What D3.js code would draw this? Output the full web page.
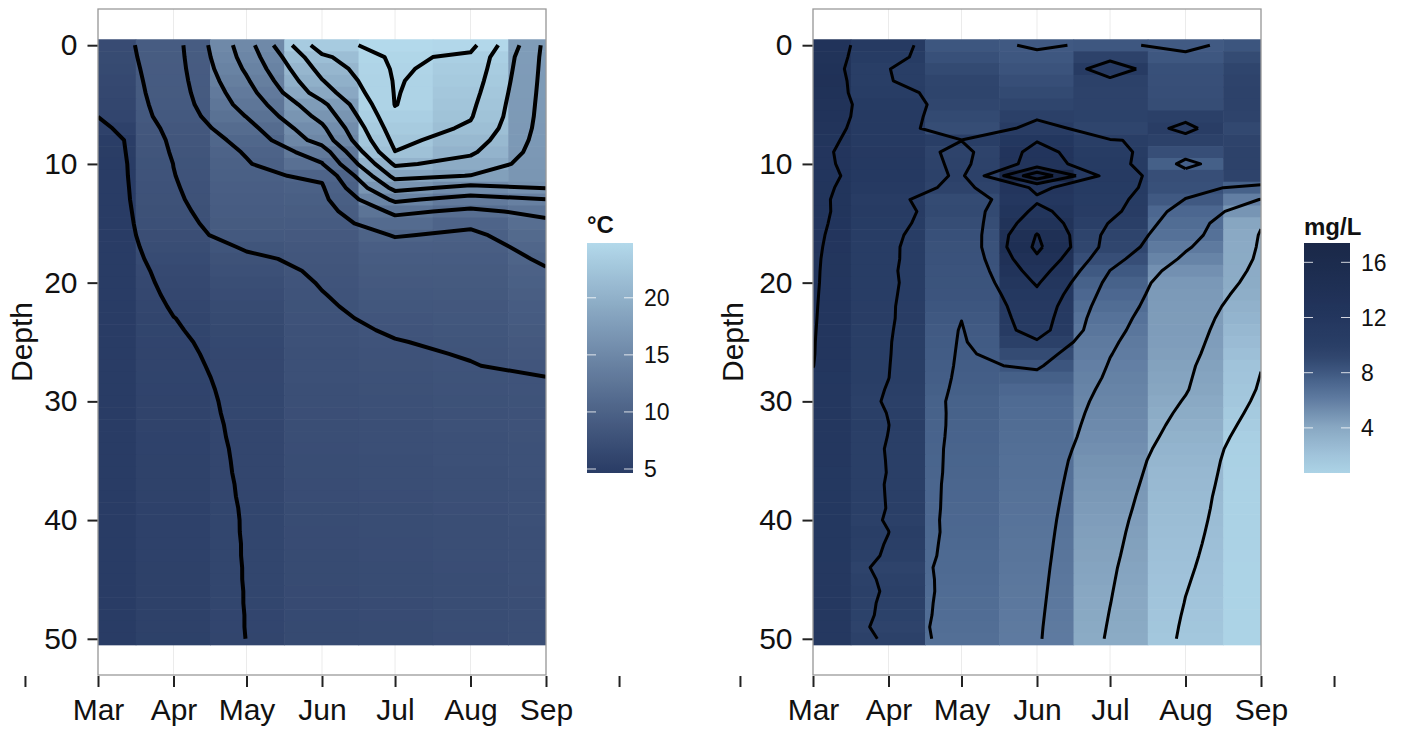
<!DOCTYPE html>
<html>
<head>
<meta charset="utf-8">
<script src="https://cdn.jsdelivr.net/npm/d3@7"></script>
<style>
  body { margin: 0; background: #fff; }
  svg text { font-family: "Liberation Sans", Arial, Helvetica, sans-serif; }
</style>
</head>
<body>
<svg id="chart" width="1406" height="730"></svg>
<script>
// one profile per sampling date, one value per metre of depth
const sampleDates = ["2013-03-01", "2013-04-01", "2013-05-01", "2013-06-01", "2013-07-01", "2013-08-01", "2013-09-01"];
const monthLabels = ["Mar", "Apr", "May", "Jun", "Jul", "Aug", "Sep"];
const outerTickDates = ["2013-01-30", "2013-10-01"];
const depths = [0, 1, 2, 3, 4, 5, 6, 7, 8, 9, 10, 11, 12, 13, 14, 15, 16, 17, 18, 19, 20,
  21, 22, 23, 24, 25, 26, 27, 28, 29, 30, 31, 32, 33, 34, 35, 36, 37, 38, 39, 40,
  41, 42, 43, 44, 45, 46, 47, 48, 49, 50];
const depthTicks = [0, 10, 20, 30, 40, 50];

// water temperature, °C
const tempMar = [6.85, 6.75, 6.6, 6.45, 6.3, 6.15, 6.02, 5.4, 4.75, 4.73, 4.72, 4.72, 4.71, 4.71, 4.7, 4.7, 4.7, 4.7, 4.7, 4.7,
  4.7, 4.69, 4.69, 4.69, 4.69, 4.69, 4.68, 4.68, 4.68, 4.68, 4.68, 4.67, 4.67, 4.67, 4.67, 4.67, 4.67, 4.67, 4.66, 4.66,
  4.66, 4.66, 4.66, 4.66, 4.66, 4.65, 4.65, 4.65, 4.65, 4.65, 4.65];
const tempApr = [9.2, 9.15, 9.1, 9.05, 9.0, 8.9, 8.75, 8.55, 8.37, 8.2, 8.02, 7.95, 7.85, 7.75, 7.6, 7.45, 7.28, 7.05, 6.82, 6.58,
  6.42, 6.27, 6.12, 5.98, 5.92, 5.87, 5.83, 5.79, 5.75, 5.71, 5.68, 5.65, 5.62, 5.59, 5.56, 5.53, 5.51, 5.49, 5.47, 5.45,
  5.43, 5.41, 5.39, 5.38, 5.37, 5.36, 5.35, 5.34, 5.33, 5.32, 5.31];
const tempMay = [15.1, 14.75, 14.3, 13.75, 13.2, 12.7, 12.05, 11.3, 10.6, 10.15, 9.85, 9.65, 9.5, 9.35, 9.2, 9.0, 8.75, 8.15, 7.75, 7.45,
  7.2, 7.0, 6.8, 6.62, 6.47, 6.35, 6.3, 6.27, 6.24, 6.22, 6.2, 6.19, 6.17, 6.16, 6.14, 6.13, 6.12, 6.1, 6.09, 6.07,
  6.06, 6.06, 6.05, 6.05, 6.04, 6.04, 6.03, 6.03, 6.02, 6.02, 6.01];
const tempJun = [23.2, 21.6, 20.7, 19.9, 19.0, 17.5, 16.6, 15.6, 14.8, 13.0, 11.9, 10.3, 9.8, 9.55, 9.3, 9.05, 8.8, 8.55, 8.35, 8.2,
  8.08, 7.96, 7.87, 7.79, 7.72, 7.65, 7.58, 7.52, 7.46, 7.4, 7.35, 7.3, 7.25, 7.2, 7.15, 7.1, 7.06, 7.02, 6.98, 6.94,
  6.9, 6.87, 6.84, 6.81, 6.78, 6.75, 6.72, 6.69, 6.66, 6.63, 6.6];
const tempJul = [24.8, 24.4, 24.25, 24.15, 24.1, 24.05, 23.6, 23.1, 22.55, 21.95, 20.3, 18.6, 16.6, 14.4, 12.4, 11.2, 10.1, 9.5, 9.2, 9.0,
  8.8, 8.6, 8.42, 8.26, 8.1, 7.96, 7.85, 7.76, 7.68, 7.6, 7.53, 7.47, 7.41, 7.36, 7.31, 7.26, 7.22, 7.18, 7.14, 7.1,
  7.07, 7.04, 7.01, 6.98, 6.95, 6.92, 6.89, 6.86, 6.83, 6.8, 6.78];
const tempAug = [24.6, 23.6, 23.3, 23.0, 22.7, 22.4, 22.15, 21.7, 21.0, 20.3, 19.3, 17.95, 15.5, 13.2, 11.6, 10.3, 9.7, 9.4, 9.2, 9.0,
  8.85, 8.7, 8.55, 8.42, 8.3, 8.18, 8.06, 7.96, 7.88, 7.8, 7.73, 7.67, 7.61, 7.56, 7.51, 7.46, 7.42, 7.38, 7.34, 7.3,
  7.27, 7.24, 7.21, 7.18, 7.15, 7.12, 7.1, 7.08, 7.06, 7.04, 7.02];
const tempSep = [17.5, 17.45, 17.4, 17.35, 17.3, 17.25, 17.2, 17.15, 17.1, 17.0, 16.9, 16.75, 16.1, 13.95, 12.5, 11.6, 11.0, 10.55, 10.2, 9.9,
  9.65, 9.42, 9.22, 9.04, 8.86, 8.68, 8.5, 8.25, 7.98, 7.93, 7.88, 7.83, 7.78, 7.74, 7.7, 7.66, 7.62, 7.58, 7.54, 7.5,
  7.46, 7.43, 7.4, 7.37, 7.34, 7.31, 7.29, 7.27, 7.25, 7.22, 7.2];

// dissolved oxygen, mg/L
const doMar = [13.0, 13.2, 13.4, 13.6, 13.4, 13.2, 13.0, 12.8, 12.5, 12.3, 12.3, 12.35, 12.4, 12.45, 12.4, 12.35, 12.3, 12.25, 12.2, 12.18,
  12.16, 12.14, 12.12, 12.1, 12.08, 12.06, 12.05, 12.02, 11.9, 11.85, 11.8, 11.78, 11.76, 11.74, 11.72, 11.7, 11.68, 11.66, 11.64, 11.62,
  11.6, 11.59, 11.58, 11.57, 11.56, 11.55, 11.54, 11.53, 11.52, 11.51, 11.5];
const doApr = [11.0, 10.6, 10.03, 10.05, 10.4, 10.9, 11.0, 11.0, 11.1, 11.2, 11.3, 11.4, 11.0, 10.5, 10.7, 10.6, 10.4, 10.3, 10.3, 10.25,
  10.3, 10.25, 10.2, 10.2, 10.15, 10.1, 10.08, 10.05, 10.02, 9.9, 9.8, 9.95, 10.02, 9.97, 9.9, 9.93, 9.95, 9.9, 9.92, 9.94,
  9.86, 10.02, 9.9, 9.8, 9.5, 9.7, 9.8, 9.7, 9.65, 9.5, 9.74];
const doMay = [8.14, 8.5, 8.9, 9.3, 9.45, 9.2, 8.9, 8.7, 10.03, 9.5, 9.6, 9.7, 9.5, 8.8, 8.9, 8.7, 8.5, 8.4, 8.35, 8.3,
  8.27, 8.22, 8.15, 8.03, 7.9, 7.85, 7.8, 7.75, 7.68, 7.6, 7.5, 7.48, 7.45, 7.42, 7.38, 7.35, 7.32, 7.28, 7.25, 7.22,
  7.2, 7.16, 7.12, 7.08, 7.04, 7.0, 6.96, 6.92, 6.88, 6.84, 6.8];
const doJun = [7.95, 8.08, 8.3, 8.6, 8.9, 9.3, 9.8, 10.5, 11.9, 12.6, 12.8, 17.4, 12.3, 11.8, 12.4, 13.2, 14.1, 14.4, 13.7, 12.9,
  12.2, 11.6, 11.2, 11.0, 10.8, 9.8, 8.8, 8.2, 7.6, 7.2, 7.0, 6.95, 6.9, 6.85, 6.8, 6.75, 6.71, 6.67, 6.63, 6.59,
  6.55, 6.51, 6.47, 6.43, 6.39, 6.35, 6.31, 6.27, 6.23, 6.19, 6.16];
const doJul = [8.07, 9.6, 10.8, 9.7, 9.6, 9.6, 9.65, 9.3, 10.05, 10.6, 10.9, 11.05, 10.9, 10.67, 10.5, 9.9, 9.4, 9.2, 8.6, 7.98,
  7.5, 7.2, 6.9, 6.6, 6.4, 6.2, 6.05, 5.9, 5.8, 5.7, 5.61, 5.5, 5.4, 5.3, 5.15, 5.0, 4.9, 4.8, 4.7, 4.6,
  4.5, 4.42, 4.35, 4.28, 4.2, 4.14, 4.08, 4.02, 3.95, 3.88, 3.81];
const doAug = [7.9, 8.08, 8.5, 8.55, 8.6, 8.7, 9.8, 10.2, 9.75, 8.6, 7.6, 8.6, 8.5, 7.95, 7.2, 6.9, 6.65, 6.2, 5.7, 5.1,
  4.75, 4.65, 4.6, 4.58, 4.55, 4.5, 4.42, 4.3, 4.2, 4.1, 3.9, 3.7, 3.5, 3.3, 3.1, 2.95, 2.85, 2.75, 2.65, 2.58,
  2.5, 2.42, 2.34, 2.26, 2.18, 2.1, 2.03, 1.96, 1.88, 1.81, 1.75];
const doSep = [8.21, 8.8, 9.3, 9.5, 9.6, 9.6, 9.5, 9.0, 9.5, 9.6, 9.6, 9.5, 7.5, 5.95, 4.9, 4.1, 3.9, 3.85, 3.8, 3.75,
  3.7, 3.55, 3.35, 3.1, 2.85, 2.6, 2.35, 2.05, 1.95, 1.85, 1.69, 1.5, 1.3, 1.1, 0.95, 0.9, 0.87, 0.85, 0.83, 0.82,
  0.81, 0.8, 0.79, 0.78, 0.77, 0.76, 0.75, 0.75, 0.74, 0.74, 0.73];

const tempLegendTicks = [5, 10, 15, 20];
const doLegendTicks = [4, 8, 12, 16];

const parse = d3.timeParse("%Y-%m-%d");
const dates = sampleDates.map(parse);
const outerDates = outerTickDates.map(parse);
const svg = d3.select("#chart");
const defs = svg.append("defs");

const panelTop = 9, panelBottom = 675;

// row-major grid (depth rows x date columns) for d3.contours
const toGrid = cols => depths.flatMap((d, j) => cols.map(c => c[j]));

// d3.contours gives closed rings; cut them where they run along the grid edge
// so only the open isolines are left, like stat_contour draws them
function isolines(values, nx, ny, levels) {
  const out = [];
  const onEdge = p => p[0] <= 0 || p[0] >= nx || p[1] <= 0 || p[1] >= ny;
  d3.contours().size([nx, ny]).thresholds(levels)(values).forEach(mp => {
    mp.coordinates.forEach(poly => poly.forEach(ring => {
      const pts = ring.slice(0, -1);
      const k = pts.findIndex(onEdge);
      if (k < 0) { out.push(pts.concat([pts[0]])); return; }
      const rot = pts.slice(k).concat(pts.slice(0, k));
      let run = [];
      rot.forEach(p => {
        if (onEdge(p)) { if (run.length > 1) out.push(run); run = []; }
        else run.push(p);
      });
      if (run.length > 1) out.push(run);
    }));
  });
  return out;
}

const interpAt = (arr, f) => {
  const i = Math.max(0, Math.min(Math.floor(f), arr.length - 2));
  return +arr[i] + (f - i) * (arr[i + 1] - arr[i]);
};

function panel(o) {
  const g = svg.append("g");
  const x = d3.scaleTime().domain(d3.extent(dates)).range([o.left, o.right]);
  const pad = depths.length * 0.05;
  const y = d3.scaleLinear()
    .domain([d3.min(depths) - 0.5 - pad, d3.max(depths) + 0.5 + pad])
    .range([panelTop, panelBottom]);

  const values = toGrid(o.cols);
  const [vmin, vmax] = d3.extent(values);
  // colour stops given as fractions of the data range
  const color = d3.scaleLinear()
    .domain(o.stops.map(s => vmin + s * (vmax - vmin)))
    .range(o.colors)
    .interpolate(d3.interpolateLab);

  defs.append("clipPath").attr("id", "clip-" + o.id)
    .append("rect").attr("x", o.left).attr("y", panelTop)
    .attr("width", o.right - o.left).attr("height", panelBottom - panelTop);

  // faint vertical grid (only shows in the white bands)
  g.append("g").selectAll("line").data(dates).join("line")
    .attr("x1", d => x(d)).attr("x2", d => x(d))
    .attr("y1", panelTop).attr("y2", panelBottom)
    .attr("stroke", "#EBEBEB").attr("stroke-width", 1);

  // tile edges halfway between sampling dates
  const xs = dates.map(d => x(d));
  const bounds = d3.range(xs.length + 1).map(i =>
    i === 0 ? xs[0] - (xs[1] - xs[0]) / 2 :
    i === xs.length ? xs[i - 1] + (xs[i - 1] - xs[i - 2]) / 2 :
    (xs[i - 1] + xs[i]) / 2);

  const tiles = depths.flatMap((dep, j) => o.cols.map((c, i) => ({ i, dep, v: c[j] })));
  g.append("g").attr("clip-path", `url(#clip-${o.id})`)
    .selectAll("rect").data(tiles).join("rect")
    .attr("x", d => bounds[d.i])
    .attr("width", d => bounds[d.i + 1] - bounds[d.i] + 0.6)
    .attr("y", d => y(d.dep - 0.5))
    .attr("height", d => y(d.dep + 0.5) - y(d.dep - 0.5) + 0.6)
    .attr("fill", d => color(d.v));

  // contour lines
  const levels = d3.ticks(vmin, vmax, 10);
  const lines = isolines(values, dates.length, depths.length, levels);
  const line = d3.line()
    .x(p => x(new Date(interpAt(dates, p[0] - 0.5))))
    .y(p => y(interpAt(depths, p[1] - 0.5)));
  g.append("g").attr("clip-path", `url(#clip-${o.id})`)
    .selectAll("path").data(lines).join("path")
    .attr("d", line)
    .attr("fill", "none")
    .attr("stroke", "#000")
    .attr("stroke-width", o.lineWidth)
    .attr("stroke-linejoin", "round");

  // panel border
  g.append("rect")
    .attr("x", o.left).attr("y", panelTop)
    .attr("width", o.right - o.left).attr("height", panelBottom - panelTop)
    .attr("fill", "none").attr("stroke", "#9A9A9A").attr("stroke-width", 1.3);

  const styleAxis = a => {
    a.attr("font-size", null).attr("font-family", null);
    a.select(".domain").remove();
    a.selectAll(".tick line").attr("stroke", "#222").attr("stroke-width", 2);
    a.selectAll(".tick text").attr("font-size", 30).attr("fill", "#111");
  };

  g.append("g").attr("transform", `translate(${o.left - 0.5},0)`)
    .call(d3.axisLeft(y).tickValues(depthTicks).tickSize(10).tickPadding(10))
    .call(styleAxis);

  const labelOf = d => {
    const k = dates.findIndex(e => +e === +d);
    return k < 0 ? "" : monthLabels[k];
  };
  g.append("g").attr("transform", `translate(0,${panelBottom + 1})`)
    .call(d3.axisBottom(x).tickValues(dates.concat(outerDates)).tickSize(11).tickPadding(12).tickFormat(labelOf))
    .call(styleAxis);

  g.append("text")
    .attr("transform", `translate(${o.titleX},${(panelTop + panelBottom) / 2}) rotate(-90)`)
    .attr("text-anchor", "middle")
    .attr("font-size", 30).attr("fill", "#111")
    .text("Depth");

  // colour bar legend
  const barTop = 243, barBottom = 473, barW = 46;
  const ly = d3.scaleLinear().domain([vmin, vmax]).range([barBottom, barTop]);
  const grad = defs.append("linearGradient").attr("id", "grad-" + o.id)
    .attr("x1", 0).attr("y1", 1).attr("x2", 0).attr("y2", 0);
  grad.selectAll("stop").data(d3.range(41).map(k => k / 40)).join("stop")
    .attr("offset", k => k)
    .attr("stop-color", k => color(vmin + k * (vmax - vmin)));

  const lg = svg.append("g");
  lg.append("rect").attr("x", o.legX).attr("y", barTop).attr("width", barW).attr("height", barBottom - barTop)
    .attr("fill", `url(#grad-${o.id})`);
  const tk = lg.append("g").selectAll("g").data(o.legendTicks).join("g");
  tk.append("line").attr("x1", o.legX).attr("x2", o.legX + 9)
    .attr("y1", d => ly(d)).attr("y2", d => ly(d)).attr("stroke", "#fff").attr("stroke-opacity", 0.8);
  tk.append("line").attr("x1", o.legX + barW - 9).attr("x2", o.legX + barW)
    .attr("y1", d => ly(d)).attr("y2", d => ly(d)).attr("stroke", "#fff").attr("stroke-opacity", 0.8);
  tk.append("text").attr("x", o.legX + barW + 11).attr("y", d => ly(d)).attr("dy", "0.36em")
    .attr("font-size", 23).attr("fill", "#111").text(d => d);
  lg.append("text").attr("x", o.legX).attr("y", o.legTitleY)
    .attr("font-size", 24).attr("font-weight", "bold").attr("fill", "#111")
    .text(o.legTitle);
}

panel({
  id: "temp", left: 98, right: 546, titleX: 32,
  cols: [tempMar, tempApr, tempMay, tempJun, tempJul, tempAug, tempSep],
  stops: [0, 1], colors: ["#293C65", "#B3D9EB"], lineWidth: 4,
  legX: 587, legTitle: "°C", legTitleY: 233, legendTicks: tempLegendTicks
});

panel({
  id: "do", left: 813, right: 1261, titleX: 743,
  cols: [doMar, doApr, doMay, doJun, doJul, doAug, doSep],
  stops: [0, 0.08, 0.2, 0.32, 0.38, 0.44, 0.5, 0.56, 0.68, 0.8, 0.92, 1],
  colors: ["#ACD3E6", "#A0C3DA", "#88A7C2", "#607CA1", "#4E6A92", "#3E5780", "#31476F", "#293E66", "#23365E", "#1F3055", "#1C2B4D", "#1A2848"],
  lineWidth: 3,
  legX: 1304, legTitle: "mg/L", legTitleY: 235, legendTicks: doLegendTicks
});
</script>
</body>
</html>
